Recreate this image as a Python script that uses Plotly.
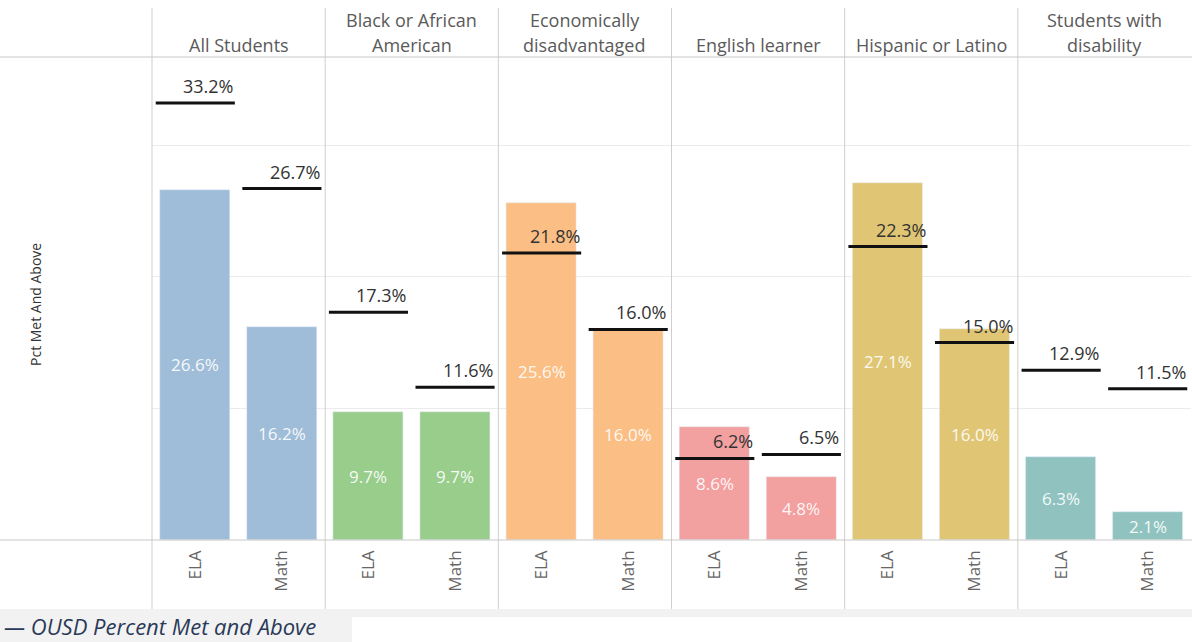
import plotly.graph_objects as go
from plotly.subplots import make_subplots

groups = ["All Students", "Black or African American", "Economically disadvantaged",
          "English learner", "Hispanic or Latino", "Students with disability"]
header_lines = [["All Students"], ["Black or African", "American"],
                ["Economically", "disadvantaged"], ["English learner"],
                ["Hispanic or Latino"], ["Students with", "disability"]]
subjects = ["ELA", "Math"]
bar_values = [[26.6, 16.2], [9.7, 9.7], [25.6, 16.0], [8.6, 4.8], [27.1, 16.0], [6.3, 2.1]]
ousd_values = [[33.2, 26.7], [17.3, 11.6], [21.8, 16.0], [6.2, 6.5], [22.3, 15.0], [12.9, 11.5]]
colors = ["#9fbdd8", "#98cd8b", "#fbbe84", "#f3a0a0", "#e0c674", "#90c3c0"]

W, H = 1192, 642
L, R, T, B = 152, 1, 57, 102
PW = W - L - R
PH = H - T - B
FONT = "Open Sans"

def px_x(p):
    return (p - L) / PW

def px_y(p):
    return (H - B - p) / PH

fig = make_subplots(rows=1, cols=6, shared_yaxes=True, horizontal_spacing=0)

for i, g in enumerate(groups):
    c = i + 1
    fig.add_trace(go.Bar(x=subjects, y=bar_values[i], marker_color=colors[i],
                         width=0.81, showlegend=False, hoverinfo="skip"), row=1, col=c)
    fig.add_trace(go.Scatter(x=subjects, y=ousd_values[i], mode="markers",
                             marker=dict(symbol="line-ew", size=56.5,
                                         line=dict(width=3, color="#111111")),
                             showlegend=False, hoverinfo="skip", cliponaxis=False),
                  row=1, col=c)
    xr = "x" if c == 1 else f"x{c}"
    for j, s in enumerate(subjects):
        fig.add_annotation(x=s, y=bar_values[i][j] / 2, xref=xr, yref="y",
                           text=f"{bar_values[i][j]:.1f}%", showarrow=False,
                           xanchor="center",
                           font=dict(family=FONT, size=17, color="rgba(255,255,255,0.92)"))
        fig.add_annotation(x=s, y=ousd_values[i][j], xref=xr, yref="y",
                           text=f"{ousd_values[i][j]:.1f}%", showarrow=False,
                           xanchor="right", yanchor="middle", xshift=40, yshift=17,
                           font=dict(family=FONT, size=18, color="#333333"))
    # headers
    lines = header_lines[i]
    ys = [45] if len(lines) == 1 else [20, 45]
    for ln, yy in zip(lines, ys):
        fig.add_annotation(x=0.5, xref=f"{xr} domain", y=px_y(yy), yref="paper",
                           text=ln, showarrow=False, xanchor="center", yanchor="middle",
                           font=dict(family=FONT, size=18, color="#5a5a5a"))
    fig.update_xaxes(row=1, col=c, type="category", range=[-0.5, 1.5], tickangle=-90,
                     showline=False, showgrid=False, zeroline=False, ticks="",
                     ticklabelstandoff=6,
                     tickfont=dict(family=FONT, size=17, color="#666666"))

fig.update_yaxes(range=[0, 36.7], showticklabels=False, showgrid=True,
                 gridcolor="#ebebeb", gridwidth=1, zeroline=False, ticks="",
                 tickvals=[10, 20, 30], showline=False)

shapes = []
div_color = "#cfcfcf"
# vertical dividers
for k in range(6):
    xp = L + k * PW / 6
    shapes.append(dict(type="line", xref="paper", yref="paper",
                       x0=px_x(xp), x1=px_x(xp), y0=px_y(8), y1=px_y(609),
                       line=dict(color=div_color, width=1)))
# horizontal header line and baseline
for yy in (57, 540):
    shapes.append(dict(type="line", xref="paper", yref="paper",
                       x0=px_x(0), x1=px_x(W), y0=px_y(yy), y1=px_y(yy),
                       line=dict(color="#c8c8c8", width=1)))
# bottom gray band and legend box
shapes.append(dict(type="rect", xref="paper", yref="paper", layer="below",
                   x0=px_x(0), x1=px_x(W), y0=px_y(617), y1=px_y(609),
                   fillcolor="#f2f2f2", line=dict(width=0)))
shapes.append(dict(type="rect", xref="paper", yref="paper", layer="below",
                   x0=px_x(0), x1=px_x(352), y0=px_y(642), y1=px_y(609),
                   fillcolor="#f2f2f2", line=dict(width=0)))

fig.add_annotation(x=px_x(35), y=px_y(305), xref="paper", yref="paper",
                   text="Pct Met And Above", textangle=-90, showarrow=False,
                   xanchor="center", yanchor="middle",
                   font=dict(family=FONT, size=14, color="#333333"))
fig.add_annotation(x=px_x(3), y=px_y(626), xref="paper", yref="paper",
                   text="<i>— OUSD Percent Met and Above</i>", showarrow=False,
                   xanchor="left", yanchor="middle", borderpad=0,
                   font=dict(family=FONT, size=22, color="#2a3a58"))

fig.update_layout(width=W, height=H, margin=dict(l=L, r=R, t=T, b=B),
                  paper_bgcolor="white", plot_bgcolor="white", shapes=shapes,
                  bargap=0, showlegend=False, font=dict(family=FONT))

fig.write_html("out.html", config={"displayModeBar": False},
               post_script="document.body.style.margin='0';document.body.style.overflow='hidden';")
